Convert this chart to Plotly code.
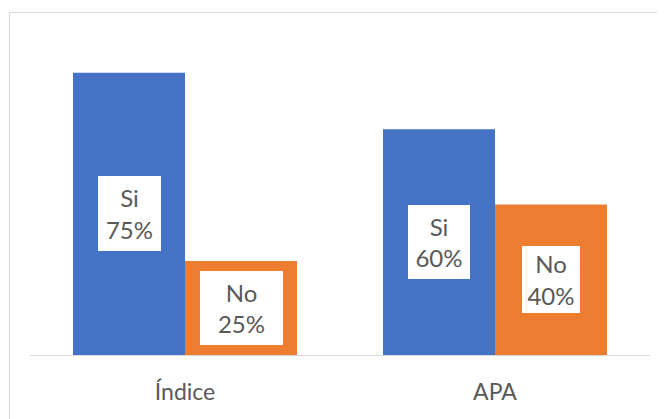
import plotly.graph_objects as go

# data
categories = ['Índice', 'APA']
series_names = ['Si', 'No']
si_values = [0.75, 0.60]
no_values = [0.25, 0.40]

colors = {'Si': '#4472C4', 'No': '#ED7D31'}
# label box sizes (px) as drawn in the reference
box_sizes = {('Si', 0): (63, 75), ('No', 0): (83, 74),
             ('Si', 1): (62, 74), ('No', 1): (58, 67)}

bargap = 0.2774
font = 'Lato, Calibri, Arial, sans-serif'

# plot area in figure px (page adds 8px body margin)
L, T, R, B = 22, 46, 23, 72
W, H = 665, 419
pw, ph = W - L - R, H - T - B

fig = go.Figure()
for name, vals in zip(series_names, [si_values, no_values]):
    fig.add_trace(go.Bar(
        x=categories, y=vals, name=name,
        marker=dict(color=colors[name], line=dict(width=0)),
        hoverinfo='skip',
    ))

# white data-label boxes centered in each bar
bar_w = (1 - bargap) / 2
for s, (name, vals) in enumerate(zip(series_names, [si_values, no_values])):
    for i, v in enumerate(vals):
        w, h = box_sizes[(name, i)]
        fig.add_annotation(
            x=i - bar_w / 2 + s * bar_w, y=v / 2, xref='x', yref='y',
            text=f'{name}<br>{v:.0%}', showarrow=False,
            font=dict(family=font, size=24, color='#595959'),
            bgcolor='white', borderpad=0, borderwidth=0,
            width=w, height=h, align='center', valign='middle',
        )

# chart border (cropped at right and bottom)
fig.add_shape(type='rect', xref='paper', yref='paper',
              x0=(1.5 - L) / pw, x1=(W + 20 - L) / pw,
              y0=-(H + 20 - T - ph) / ph, y1=(T + ph - 4.5) / ph,
              line=dict(color='#D9D9D9', width=1), layer='below')

fig.update_layout(
    width=W, height=H,
    margin=dict(l=L, r=R, t=T, b=B),
    barmode='group', bargap=bargap, bargroupgap=0,
    plot_bgcolor='white', paper_bgcolor='white',
    showlegend=False,
    font=dict(family=font, color='#595959'),
    xaxis=dict(showline=True, linecolor='#D9D9D9', linewidth=1,
               ticks='', tickfont=dict(size=23, color='#595959'),
               ticklabelstandoff=16,
               showgrid=False, range=[-0.5, 1.5]),
    yaxis=dict(range=[0, 0.8], visible=False, showgrid=False),
)

fig.write_html('out.html')
